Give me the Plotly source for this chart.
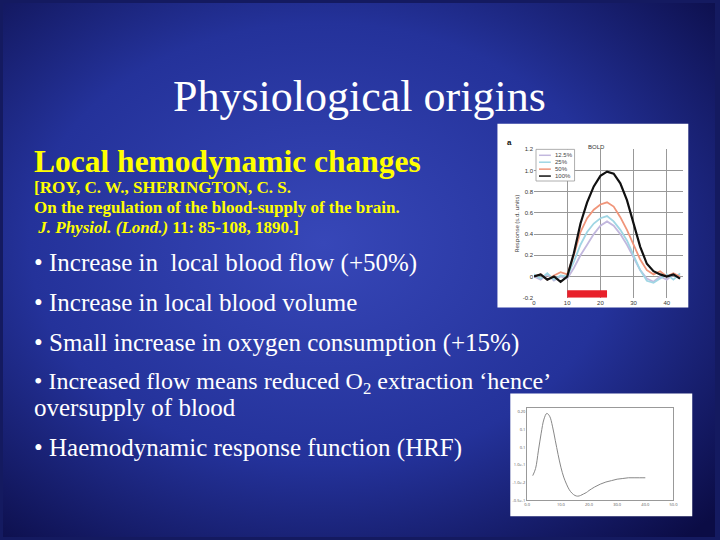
import base64
import plotly.graph_objects as go

# BOLD panel data (time in s, response in s.d. units)
T_BOLD   = [0, 2, 4, 6, 8, 10, 12, 14, 16, 18, 20, 22, 24, 26, 28, 30, 32, 34, 36, 38, 40, 42, 44]
BOLD_125 = [0.0, -0.03, 0.02, -0.04, 0.0, -0.02, 0.08, 0.2, 0.3, 0.4, 0.48, 0.52, 0.48, 0.4, 0.3, 0.18, 0.06, -0.02, -0.05, 0.0, -0.03, 0.02, -0.02]
BOLD_25  = [0.02, -0.02, 0.03, -0.03, 0.01, 0.0, 0.14, 0.3, 0.42, 0.5, 0.55, 0.57, 0.52, 0.44, 0.34, 0.2, 0.06, -0.04, -0.06, -0.02, 0.02, -0.03, 0.03]
BOLD_50  = [0.0, 0.02, -0.03, 0.01, 0.04, 0.02, 0.2, 0.42, 0.55, 0.63, 0.68, 0.7, 0.66, 0.56, 0.44, 0.3, 0.16, 0.06, 0.02, 0.05, 0.0, 0.03, 0.0]
BOLD_100 = [0.0, 0.02, -0.03, 0.0, -0.05, 0.0, 0.22, 0.5, 0.7, 0.85, 0.95, 0.99, 0.97, 0.88, 0.72, 0.5, 0.28, 0.12, 0.05, 0.02, 0.0, 0.02, -0.02]
BOLD_NAMES  = ["12.5%", "25%", "50%", "100%"]
BOLD_COLORS = ["#c2b8de", "#9fd6e4", "#f0957a", "#111111"]

# HRF panel data
T_HRF = [0, 1, 2, 3, 4, 5, 6, 7, 8, 9, 10, 11, 12, 13, 14, 15, 16, 17, 18, 19, 20, 22, 24, 26, 28, 30, 32, 34, 36, 38, 40]
HRF   = [0.0, 0.1, 0.35, 0.6, 0.8, 0.88, 0.84, 0.7, 0.5, 0.3, 0.12, -0.02, -0.12, -0.2, -0.25, -0.28, -0.29, -0.28, -0.26, -0.24, -0.21, -0.16, -0.12, -0.09, -0.07, -0.05, -0.04, -0.03, -0.03, -0.03, -0.03]

# background gradient as an svg image
svg = """<svg xmlns='http://www.w3.org/2000/svg' width='720' height='540'>
<defs><radialGradient id='g' cx='0.45' cy='0.45' r='0.75'>
<stop offset='0' stop-color='#3747b8'/><stop offset='0.55' stop-color='#24329a'/>
<stop offset='1' stop-color='#0b0c45'/></radialGradient></defs>
<rect width='720' height='540' fill='url(#g)'/></svg>"""
bg_uri = "data:image/svg+xml;base64," + base64.b64encode(svg.encode()).decode()

fig = go.Figure()

for name, vals, col in zip(BOLD_NAMES, [BOLD_125, BOLD_25, BOLD_50, BOLD_100], BOLD_COLORS):
    fig.add_trace(go.Scatter(x=T_BOLD, y=vals, mode="lines", name=name, showlegend=False,
                             line=dict(color=col, width=2.2 if name == "100%" else 1.8)))

fig.add_trace(go.Scatter(x=T_HRF, y=HRF, mode="lines", xaxis="x2", yaxis="y2",
                         line=dict(color="#888888", width=1, shape="spline"), showlegend=False))

fig.add_layout_image(source=bg_uri, xref="paper", yref="paper", x=0, y=1, sizex=1, sizey=1,
                     xanchor="left", yanchor="top", sizing="stretch", layer="below")

# panel backgrounds
fig.add_shape(type="rect", xref="paper", yref="paper", x0=500/720, x1=693/720,
              y0=1-308/540, y1=1-122/540, fillcolor="white", line_width=0, layer="below")
fig.add_shape(type="rect", xref="paper", yref="paper", x0=513/720, x1=697/720,
              y0=1-519/540, y1=1-395/540, fillcolor="white", line_width=0, layer="below")
# stimulus bar
fig.add_shape(type="rect", x0=10, x1=22, y0=-0.2, y1=-0.13, fillcolor="#e8202a", line_width=0)

# compact legend box
fig.add_shape(type="rect", xref="paper", yref="paper", x0=539/720, x1=578/720,
              y0=1-180/540, y1=1-148/540, fillcolor="white", line=dict(color="#999", width=0.8))
for i, (name, col) in enumerate(zip(BOLD_NAMES, BOLD_COLORS)):
    yy = 1 - (154 + 7 * i) / 540
    fig.add_shape(type="line", xref="paper", yref="paper", x0=542/720, x1=554/720,
                  y0=yy, y1=yy, line=dict(color=col, width=1.5))
    fig.add_annotation(x=557/720, y=yy, xref="paper", yref="paper", text=name,
                       showarrow=False, xanchor="left", yanchor="middle", borderpad=0,
                       font=dict(size=6, color="#444", family="Arial"))

axfont = dict(size=6, color="#333", family="Arial")
fig.update_layout(
    width=720, height=540, margin=dict(l=0, r=0, t=0, b=0), showlegend=False,
    paper_bgcolor="#141a60", plot_bgcolor="rgba(0,0,0,0)",
    xaxis=dict(domain=[537/720, 688/720], range=[0, 45], tickvals=[0, 10, 20, 30, 40],
               showgrid=True, gridcolor="#999", tickfont=axfont, ticks="", zeroline=False,
               showline=False),
    yaxis=dict(domain=[1-298/540, 1-148/540], range=[-0.2, 1.2],
               tickvals=[-0.2, 0, 0.2, 0.4, 0.6, 0.8, 1.0, 1.2],
               ticktext=["-0.2", "0", "0.2", "0.4", "0.6", "0.8", "1.0", "1.2"],
               showgrid=True, gridcolor="#999", tickfont=axfont, zeroline=False,
               title=dict(text="Response (s.d. units)", font=dict(size=6, color="#333"), standoff=2)),
    xaxis2=dict(domain=[530/720, 678/720], range=[-2, 50], anchor="y2",
                tickvals=[-2, 10, 20, 30, 40, 50],
                ticktext=["0.0", "10.0", "20.0", "30.0", "40.0", "50.0"],
                showgrid=False, zeroline=False, showline=True, mirror=True, linecolor="#999",
                tickfont=dict(size=4, color="#555")),
    yaxis2=dict(domain=[1-503/540, 1-410/540], range=[-0.35, 0.95], anchor="x2",
                tickvals=[-0.35, -0.1, 0.15, 0.4, 0.65, 0.9],
                ticktext=["-0.5e-1", "-1.0e-2", "1.0e-1", "0.1", "0.1", "0.20"],
                showgrid=False, zeroline=False, showline=True, mirror=True, linecolor="#999",
                tickfont=dict(size=4, color="#555")),
)

fig.add_annotation(x=611/720, y=1-141/540, xref="paper", yref="paper", text="BOLD",
                   showarrow=False, font=dict(size=6, color="#333", family="Arial"))
fig.add_annotation(x=517/720, y=1-134/540, xref="paper", yref="paper", text="<b>a</b>",
                   showarrow=False, font=dict(size=8, color="#111", family="Arial"))

serif = "Liberation Serif"
texts = [
    (360, 95, "Physiological origins", 44, "white", "center"),
    (29, 160, "<b>Local hemodynamic changes</b>", 31.5, "#ffff00", "left"),
    (29, 187, "<b>[ROY, C. W., SHERINGTON, C. S.</b>", 17, "#ffff00", "left"),
    (29, 207, "<b>On the regulation of the blood-supply of the brain.</b>", 17, "#ffff00", "left"),
    (29, 227, "<b> <i>J. Physiol. (Lond.)</i> 11: 85-108, 1890.]</b>", 17, "#ffff00", "left"),
    (29, 263, "• Increase in  local blood flow (+50%)", 25, "white", "left"),
    (29, 303, "• Increase in local blood volume", 25, "white", "left"),
    (29, 344, "• Small increase in oxygen consumption (+15%)", 25, "white", "left"),
    (29, 384, "• Increased flow means reduced O<sub>2</sub> extraction ‘hence’", 24, "white", "left"),
    (29, 409, "oversupply of blood", 25, "white", "left"),
    (29, 450, "• Haemodynamic response function (HRF)", 25, "white", "left"),
]
for x, y, t, s, c, a in texts:
    fig.add_annotation(x=x/720, y=1-y/540, xref="paper", yref="paper", text=t,
                       showarrow=False, xanchor=a, yanchor="middle",
                       font=dict(size=s, color=c, family=serif))

fig.write_html("out.html", config={"displayModeBar": False},
               post_script="document.body.style.margin='0';")
